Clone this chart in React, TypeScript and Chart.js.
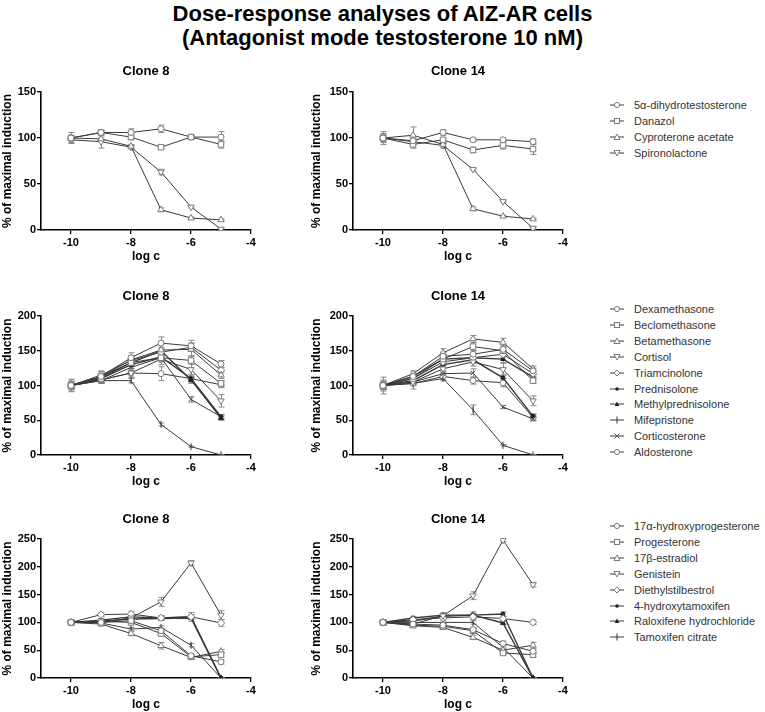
import React, { useEffect, useRef } from 'react';
import { Chart, registerables } from 'chart.js';

Chart.register(...registerables);

const FONT = '"Liberation Sans", Arial, Helvetica, sans-serif';

// ---------- shared axes ----------
const logC = [-10, -9, -8, -7, -6, -5];
const xTickValues = [-10, -8, -6, -4];
const panelTitles = ['Clone 8', 'Clone 14'];
const yMaxByRow = [150, 200, 250];

// ---------- group 1 ----------
const group1Names = ['5α-dihydrotestosterone', 'Danazol', 'Cyproterone acetate', 'Spironolactone'];
const group1Markers = ['circle', 'square', 'triangle', 'invTriangle'];
// Clone 8
const c8_dht = [100, 106, 106, 110, 101, 101];
const c8_danazol = [100, 106, 101, 90, 101, 93];
const c8_cypro = [100, 99, 91, 22, 13, 11];
const c8_spiro = [98, 96, 90, 63, 25, 1];
const c8_dhtErr = [6, 2, 4, 4, 2, 6];
const c8_danazolErr = [3, 2, 3, 2, 2, 4];
const c8_cyproErr = [2, 2, 2, 2, 1, 1];
const c8_spiroErr = [3, 7, 2, 3, 1, 1];
// Clone 14
const c14_dht = [100, 97, 106, 98, 98, 96];
const c14_danazol = [100, 93, 98, 87, 92, 88];
const c14_cypro = [100, 103, 93, 23, 15, 12];
const c14_spiro = [100, 96, 92, 66, 31, 2];
const c14_dhtErr = [7, 3, 3, 2, 2, 3];
const c14_danazolErr = [5, 4, 2, 3, 4, 6];
const c14_cyproErr = [4, 9, 3, 2, 1, 1];
const c14_spiroErr = [3, 3, 3, 1, 1, 1];

// ---------- group 2 ----------
const group2Names = ['Dexamethasone', 'Beclomethasone', 'Betamethasone', 'Cortisol', 'Triamcinolone',
  'Prednisolone', 'Methylprednisolone', 'Mifepristone', 'Corticosterone', 'Aldosterone'];
const group2Markers = ['circle', 'square', 'triangle', 'invTriangle', 'diamond', 'dot', 'smallTri', 'vline', 'cross', 'circle'];
// Clone 8
const c8_dex = [100, 113, 140, 161, 157, 131];
const c8_beclo = [100, 110, 133, 140, 136, 103];
const c8_beta = [100, 112, 137, 151, 152, 115];
const c8_cortisol = [100, 108, 118, 138, 123, 78];
const c8_triam = [100, 115, 136, 148, 155, 122];
const c8_pred = [100, 110, 130, 141, 110, 55];
const c8_methyl = [100, 112, 133, 150, 108, 53];
const c8_mife = [100, 107, 107, 44, 12, 0];
const c8_cortico = [100, 107, 126, 140, 80, 55];
const c8_aldo = [100, 108, 118, 117, 110, 101];
const c8_g2Err = [
  [9, 8, 7, 9, 8, 5], [5, 5, 5, 6, 6, 4], [5, 6, 6, 8, 9, 5], [6, 5, 6, 8, 12, 9], [4, 5, 6, 6, 6, 4],
  [4, 4, 5, 5, 5, 3], [4, 4, 5, 5, 5, 3], [3, 3, 3, 2, 1, 1], [3, 4, 5, 6, 4, 3], [8, 5, 6, 10, 6, 4],
];
// Clone 14
const c14_dex = [100, 113, 142, 145, 152, 121];
const c14_beclo = [100, 110, 138, 156, 150, 107];
const c14_beta = [100, 117, 147, 167, 162, 124];
const c14_cortisol = [100, 105, 124, 134, 123, 78];
const c14_triam = [100, 110, 134, 140, 145, 117];
const c14_pred = [100, 107, 130, 137, 111, 56];
const c14_methyl = [100, 113, 138, 140, 138, 112];
const c14_mife = [100, 103, 110, 65, 14, 0];
const c14_cortico = [100, 105, 117, 118, 69, 52];
const c14_aldo = [100, 103, 113, 107, 104, 54];
const c14_g2Err = [
  [8, 5, 6, 5, 6, 4], [6, 4, 5, 6, 5, 4], [5, 4, 6, 5, 6, 4], [6, 4, 6, 6, 9, 7], [5, 4, 5, 5, 5, 4],
  [5, 4, 4, 5, 5, 3], [5, 4, 4, 5, 5, 3], [4, 3, 3, 7, 1, 1], [5, 4, 4, 6, 2, 3], [12, 8, 5, 5, 6, 4],
];

// ---------- group 3 ----------
const group3Names = ['17α-hydroxyprogesterone', 'Progesterone', '17β-estradiol', 'Genistein', 'Diethylstilbestrol',
  '4-hydroxytamoxifen', 'Raloxifene hydrochloride', 'Tamoxifen citrate'];
const group3Markers = ['circle', 'square', 'triangle', 'invTriangle', 'diamond', 'dot', 'smallTri', 'vline'];
// Clone 8
const c8_ohp = [100, 100, 103, 85, 40, 29];
const c8_prog = [100, 102, 100, 80, 38, 42];
const c8_e2 = [100, 97, 80, 58, 37, 48];
const c8_gen = [100, 100, 108, 137, 207, 113];
const c8_des = [100, 114, 115, 108, 110, 99];
const c8_oht = [100, 104, 110, 108, 110, 0];
const c8_ralox = [100, 102, 106, 107, 108, 0];
const c8_tam = [100, 99, 88, 91, 59, 0];
const c8_g3Err = [
  [4, 3, 3, 5, 3, 4], [5, 3, 3, 4, 3, 4], [3, 3, 4, 6, 3, 3], [3, 4, 5, 8, 4, 8],
  [3, 3, 5, 4, 8, 6], [3, 3, 4, 4, 4, 1], [3, 3, 3, 3, 3, 1], [3, 3, 3, 3, 3, 1],
];
// Clone 14
const c14_ohp = [100, 97, 95, 87, 62, 48];
const c14_prog = [100, 95, 93, 85, 45, 42];
const c14_e2 = [100, 94, 91, 73, 50, 59];
const c14_gen = [100, 97, 112, 148, 248, 168];
const c14_des = [100, 105, 108, 110, 107, 100];
const c14_oht = [100, 108, 113, 113, 115, 0];
const c14_ralox = [100, 103, 111, 113, 99, 0];
const c14_tam = [100, 100, 100, 100, 55, 0];
const c14_g3Err = [
  [5, 3, 3, 4, 4, 4], [5, 3, 3, 4, 4, 4], [4, 3, 3, 4, 4, 5], [4, 3, 5, 7, 3, 4],
  [4, 3, 4, 5, 4, 4], [4, 3, 4, 6, 4, 1], [4, 3, 3, 3, 3, 1], [4, 3, 3, 3, 3, 1],
];

// ---------- panel assembly ----------
const rowSeries = [
  [
    { values: [c8_dht, c8_danazol, c8_cypro, c8_spiro], errors: [c8_dhtErr, c8_danazolErr, c8_cyproErr, c8_spiroErr] },
    { values: [c14_dht, c14_danazol, c14_cypro, c14_spiro], errors: [c14_dhtErr, c14_danazolErr, c14_cyproErr, c14_spiroErr] },
  ],
  [
    { values: [c8_dex, c8_beclo, c8_beta, c8_cortisol, c8_triam, c8_pred, c8_methyl, c8_mife, c8_cortico, c8_aldo], errors: c8_g2Err },
    { values: [c14_dex, c14_beclo, c14_beta, c14_cortisol, c14_triam, c14_pred, c14_methyl, c14_mife, c14_cortico, c14_aldo], errors: c14_g2Err },
  ],
  [
    { values: [c8_ohp, c8_prog, c8_e2, c8_gen, c8_des, c8_oht, c8_ralox, c8_tam], errors: c8_g3Err },
    { values: [c14_ohp, c14_prog, c14_e2, c14_gen, c14_des, c14_oht, c14_ralox, c14_tam], errors: c14_g3Err },
  ],
];
const rowNames = [group1Names, group2Names, group3Names];
const rowMarkers = [group1Markers, group2Markers, group3Markers];

// layout targets (pixels)
const ROWS = [
  { titleY: 71, plotTop: 92, plotBottom: 230, legendTop: 105 },
  { titleY: 296, plotTop: 316, plotBottom: 455, legendTop: 309 },
  { titleY: 519, plotTop: 539, plotBottom: 678, legendTop: 526 },
];
const COLS = [
  { canvasX: 0, plotLeft: 41, canvasW: 270 },
  { canvasX: 309, plotLeft: 353, canvasW: 266 },
];
const PLOT_W = 210;
const X_AXIS_H = 34;
const LEGEND_STEP = 15.9;

const LINE_COLOR = '#3a3a3a';
const MARKER_COLOR = '#7a7a7a';

function markerProps(m: string) {
  switch (m) {
    case 'circle': return { pointStyle: 'circle', pointRadius: 3, pointRotation: 0, pointBackgroundColor: '#fff', pointBorderColor: MARKER_COLOR };
    case 'square': return { pointStyle: 'rect', pointRadius: 3.9, pointRotation: 0, pointBackgroundColor: '#fff', pointBorderColor: MARKER_COLOR };
    case 'triangle': return { pointStyle: 'triangle', pointRadius: 3.7, pointRotation: 0, pointBackgroundColor: '#fff', pointBorderColor: MARKER_COLOR };
    case 'invTriangle': return { pointStyle: 'triangle', pointRadius: 3.7, pointRotation: 180, pointBackgroundColor: '#fff', pointBorderColor: MARKER_COLOR };
    case 'diamond': return { pointStyle: 'rectRot', pointRadius: 3.7, pointRotation: 0, pointBackgroundColor: '#fff', pointBorderColor: MARKER_COLOR };
    case 'dot': return { pointStyle: 'circle', pointRadius: 2, pointRotation: 0, pointBackgroundColor: '#222', pointBorderColor: '#222' };
    case 'smallTri': return { pointStyle: 'triangle', pointRadius: 2.8, pointRotation: 0, pointBackgroundColor: '#222', pointBorderColor: '#222' };
    case 'vline': return { pointStyle: 'line', pointRadius: 3.5, pointRotation: 90, pointBackgroundColor: '#222', pointBorderColor: '#333' };
    case 'cross': return { pointStyle: 'crossRot', pointRadius: 3.3, pointRotation: 0, pointBackgroundColor: '#fff', pointBorderColor: '#555' };
    default: return { pointStyle: 'circle', pointRadius: 3, pointRotation: 0, pointBackgroundColor: '#fff', pointBorderColor: MARKER_COLOR };
  }
}

const errorBarPlugin = {
  id: 'errorBars',
  beforeDatasetsDraw(chart: any) {
    const { ctx, scales } = chart;
    const xs = scales.x;
    const ys = scales.y;
    ctx.save();
    ctx.strokeStyle = '#8a8a8a';
    ctx.lineWidth = 1;
    chart.data.datasets.forEach((ds: any) => {
      const errs = ds.errors;
      if (!errs) return;
      ds.data.forEach((p: any, i: number) => {
        const e = errs[i];
        if (!e) return;
        const px = Math.round(xs.getPixelForValue(p.x)) + 0.5;
        const y1 = ys.getPixelForValue(p.y + e);
        const y2 = ys.getPixelForValue(Math.max(p.y - e, 0));
        ctx.beginPath();
        ctx.moveTo(px, y1); ctx.lineTo(px, y2);
        ctx.moveTo(px - 3, y1); ctx.lineTo(px + 3, y1);
        ctx.moveTo(px - 3, y2); ctx.lineTo(px + 3, y2);
        ctx.stroke();
      });
    });
    ctx.restore();
  },
};

function Panel({ row, col }: { row: number; col: number }) {
  const ref = useRef<HTMLCanvasElement | null>(null);
  const R = ROWS[row];
  const C = COLS[col];
  const canvasTop = R.titleY - 18;
  const canvasH = R.plotBottom + X_AXIS_H - canvasTop;
  const padTop = 18 - 7.8;
  const titleBottomPad = R.plotTop - canvasTop - padTop - 15.6;
  const yAxisW = C.plotLeft - C.canvasX;
  const padRight = C.canvasW - yAxisW - PLOT_W;

  useEffect(() => {
    if (!ref.current) return;
    const series = rowSeries[row][col];
    const markers = rowMarkers[row];
    const names = rowNames[row];
    const datasets = series.values.map((vals: number[], i: number) => ({
      label: names[i],
      data: logC.map((x, j) => ({ x, y: vals[j] })),
      errors: series.errors[i],
      borderColor: LINE_COLOR,
      borderWidth: markers[i] === 'dot' || markers[i] === 'smallTri' ? 1.4 : 1,
      pointBorderWidth: 1,
      fill: false,
      tension: 0,
      ...markerProps(markers[i]),
    }));
    const tickFont = { family: FONT, size: 11, weight: 'bold' as const };
    const chart = new Chart(ref.current, {
      type: 'line',
      data: { datasets: datasets as any },
      options: {
        animation: false,
        responsive: false,
        devicePixelRatio: 1,
        layout: { padding: { top: padTop, right: padRight, left: 0, bottom: 0 } },
        plugins: {
          legend: { display: false },
          tooltip: { enabled: false },
          title: {
            display: true,
            text: panelTitles[col],
            fullSize: false,
            color: '#000',
            font: { family: FONT, size: 13, weight: 'bold', lineHeight: 1.2 },
            padding: { top: 0, bottom: titleBottomPad },
          },
        },
        scales: {
          x: {
            type: 'linear',
            min: -11,
            max: -4,
            afterBuildTicks: (s: any) => { s.ticks = xTickValues.map((v) => ({ value: v })); },
            afterFit: (s: any) => { s.height = X_AXIS_H; },
            grid: { display: true, drawOnChartArea: false, drawTicks: true, tickLength: 4, color: '#000', lineWidth: 1.3 },
            border: { display: true, color: '#000', width: 1.6 },
            ticks: { font: tickFont, color: '#000', padding: 2, maxRotation: 0, autoSkip: false, callback: (v: any) => String(v) },
            title: { display: true, text: 'log c', color: '#000', font: { family: FONT, size: 12, weight: 'bold', lineHeight: 1.2 }, padding: { top: 0, bottom: 0 } },
          },
          y: {
            type: 'linear',
            min: 0,
            max: yMaxByRow[row],
            ticks: { stepSize: 50, font: tickFont, color: '#000', padding: 1 },
            afterFit: (s: any) => { s.width = yAxisW; },
            grid: { display: true, drawOnChartArea: false, drawTicks: true, tickLength: 4, color: '#000', lineWidth: 1.3 },
            border: { display: true, color: '#000', width: 1.6 },
            title: { display: true, text: '% of maximal induction', color: '#000', font: { family: FONT, size: 12, weight: 'bold', lineHeight: 1.2 }, padding: { top: 0, bottom: 0 } },
          },
        },
      } as any,
      plugins: [errorBarPlugin],
    });
    return () => chart.destroy();
  }, [row, col]);

  return (
    <canvas
      ref={ref}
      width={C.canvasW}
      height={canvasH}
      style={{ position: 'absolute', left: C.canvasX, top: canvasTop, width: C.canvasW, height: canvasH }}
    />
  );
}

function LegendIcon({ marker }: { marker: string }) {
  const s = MARKER_COLOR;
  let shape: any = null;
  switch (marker) {
    case 'circle': shape = <circle cx={7} cy={5} r={2.6} fill="#fff" stroke={s} strokeWidth={1} />; break;
    case 'square': shape = <rect x={4.5} y={2.5} width={5} height={5} fill="#fff" stroke={s} strokeWidth={1} />; break;
    case 'triangle': shape = <polygon points="7,2 10,7.5 4,7.5" fill="#fff" stroke={s} strokeWidth={1} />; break;
    case 'invTriangle': shape = <polygon points="4,2.5 10,2.5 7,8" fill="#fff" stroke={s} strokeWidth={1} />; break;
    case 'diamond': shape = <polygon points="7,2 10,5 7,8 4,5" fill="#fff" stroke={s} strokeWidth={1} />; break;
    case 'dot': shape = <circle cx={7} cy={5} r={1.8} fill="#222" />; break;
    case 'smallTri': shape = <polygon points="7,2.4 9.4,7 4.6,7" fill="#222" />; break;
    case 'vline': shape = <line x1={7} y1={1.5} x2={7} y2={8.5} stroke="#333" strokeWidth={1} />; break;
    case 'cross': shape = <g stroke="#555" strokeWidth={1}><line x1={4.5} y1={2.5} x2={9.5} y2={7.5} /><line x1={9.5} y1={2.5} x2={4.5} y2={7.5} /></g>; break;
  }
  return (
    <svg width={14} height={10} style={{ position: 'absolute', left: 0, top: 3 }}>
      <line x1={0} y1={5} x2={14} y2={5} stroke={LINE_COLOR} strokeWidth={1} />
      {shape}
    </svg>
  );
}

function Legend({ row }: { row: number }) {
  const names = rowNames[row];
  const markers = rowMarkers[row];
  const top = ROWS[row].legendTop;
  return (
    <>
      {names.map((n, i) => (
        <div
          key={n}
          style={{
            position: 'absolute', left: 610, top: top + i * LEGEND_STEP - 8, height: 16, width: 160,
            fontFamily: FONT, fontSize: 11, lineHeight: '16px', color: '#333', whiteSpace: 'nowrap',
          }}
        >
          <LegendIcon marker={markers[i]} />
          <span style={{ position: 'absolute', left: 24, top: 0 }}>{n}</span>
        </div>
      ))}
    </>
  );
}

export default function App() {
  return (
    <div style={{ position: 'absolute', left: 0, top: 0, width: 765, height: 712, background: '#fff', overflow: 'hidden' }}>
      <div
        style={{
          position: 'absolute', left: 0, top: 1.5, width: 765, textAlign: 'center',
          fontFamily: FONT, fontWeight: 'bold', fontSize: 22, lineHeight: '24px', color: '#000',
        }}
      >
        <div>Dose-response analyses of AIZ-AR cells</div>
        <div>(Antagonist mode testosterone 10 nM)</div>
      </div>
      {[0, 1, 2].map((r) => (
        <React.Fragment key={r}>
          <Panel row={r} col={0} />
          <Panel row={r} col={1} />
          <Legend row={r} />
        </React.Fragment>
      ))}
    </div>
  );
}
